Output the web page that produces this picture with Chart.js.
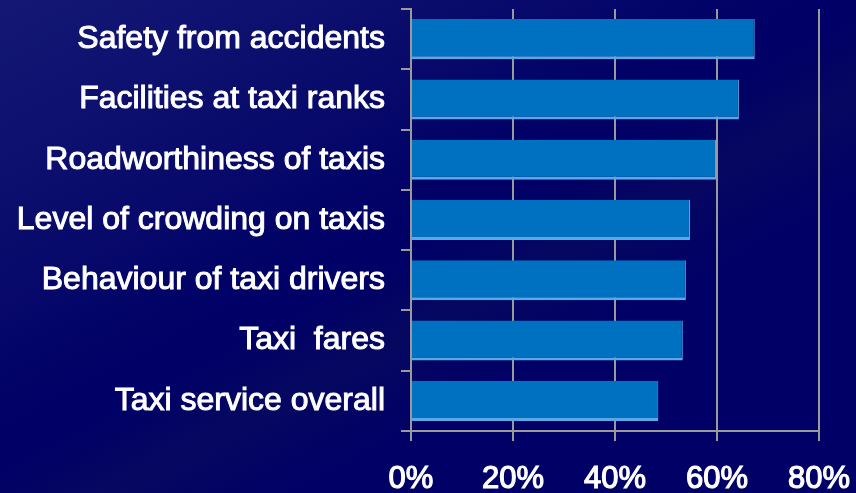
<!DOCTYPE html>
<html>
<head>
<meta charset="utf-8">
<script src="https://cdn.jsdelivr.net/npm/chart.js@4.4.0/dist/chart.umd.min.js"></script>
<style>
  html, body { margin: 0; padding: 0; width: 856px; height: 493px; overflow: hidden; }
  body {
    background:
      linear-gradient(152deg, rgba(40,48,130,0.5) 0%, rgba(30,36,120,0.3) 28%, rgba(0,0,102,0) 45%),
      linear-gradient(152deg, rgba(0,0,0,0) 50%, rgba(12,16,90,0.5) 58%, rgba(0,0,0,0) 68%),
      #000066;
  }
  #wrap { position: absolute; left: 0; top: 0; width: 856px; height: 493px; }
</style>
</head>
<body>
<div id="wrap"><canvas id="c" width="856" height="493"></canvas></div>
<script>
const categories = [
  "Safety from accidents",
  "Facilities at taxi ranks",
  "Roadworthiness of taxis",
  "Level of crowding on taxis",
  "Behaviour of taxi drivers",
  "Taxi  fares",
  "Taxi service overall"
];
const values = [67.4, 64.3, 59.8, 54.7, 53.9, 53.3, 48.5];
const xTicks = [0, 20, 40, 60, 80];

const ctx = document.getElementById('c').getContext('2d');
new Chart(ctx, {
  type: 'bar',
  data: {
    labels: categories,
    datasets: [{
      data: values,
      backgroundColor: '#0070C0',
      borderColor: '#5AA8E6',
      borderWidth: { top: 0, left: 0, right: 1, bottom: 3 },
      borderSkipped: false,
      barPercentage: 0.665,
      categoryPercentage: 1.0
    }]
  },
  options: {
    indexAxis: 'y',
    responsive: false,
    animation: false,
    devicePixelRatio: 1,
    layout: { padding: { top: 9, right: 37, left: 0, bottom: 0 } },
    plugins: { legend: { display: false }, tooltip: { enabled: false } },
    scales: {
      x: {
        min: 0, max: 80,
        afterBuildTicks: (s) => { s.ticks = xTicks.map(v => ({ value: v })); },
        afterFit: (s) => { s.height = 62; s.paddingLeft = 0; s.paddingRight = 0; },
        grid: { color: '#9A9A9A', lineWidth: 2, tickLength: 10, drawTicks: true },
        border: { color: '#9A9A9A', width: 2 },
        ticks: {
          color: '#FFFFFF',
          textStrokeColor: '#FFFFFF',
          textStrokeWidth: 1.2,
          padding: 20,
          font: { family: 'Liberation Sans, Arial, sans-serif', size: 31 },
          callback: (v) => v + '%'
        }
      },
      y: {
        afterFit: (s) => { s.width = 411; s.paddingTop = 0; s.paddingBottom = 0; },
        grid: { drawOnChartArea: false, color: '#9A9A9A', lineWidth: 2, tickLength: 10, offset: true },
        border: { color: '#9A9A9A', width: 2 },
        ticks: {
          color: '#FFFFFF',
          textStrokeColor: '#FFFFFF',
          textStrokeWidth: 1,
          padding: 16,
          font: { family: 'Liberation Sans, Arial, sans-serif', size: 32 }
        }
      }
    }
  }
});
</script>
</body>
</html>
